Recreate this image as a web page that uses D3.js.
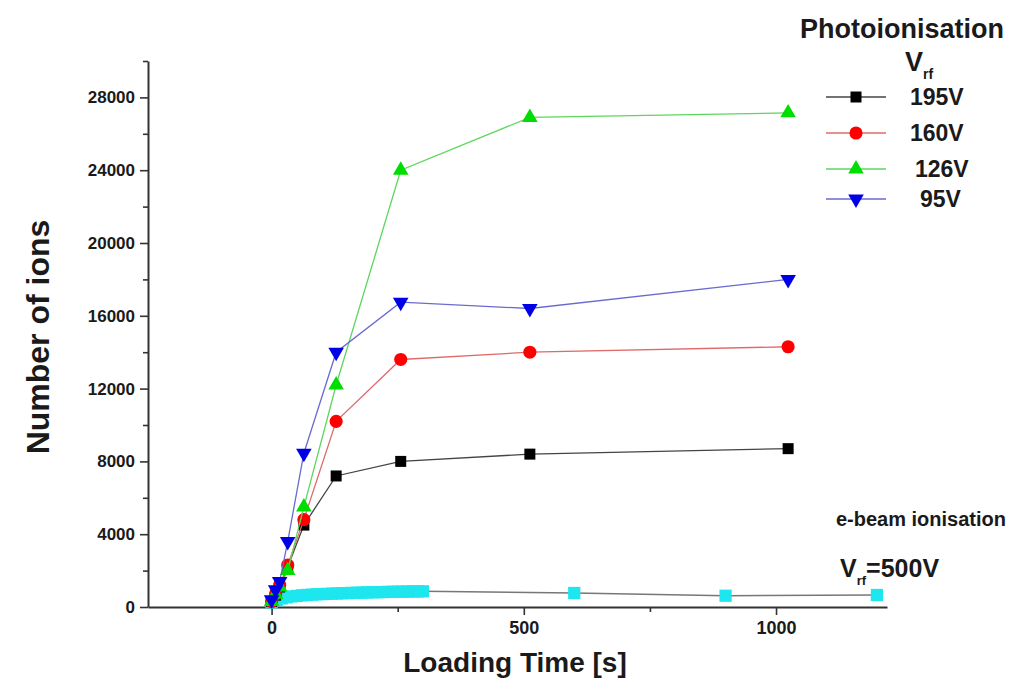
<!DOCTYPE html>
<meta charset="UTF-8">
<head>
    <script src="https://d3js.org/d3.v7.min.js"></script>
    <style>
        body { margin: 0; background: #fff; }
        svg text { font-family: "Liberation Sans", Arial, sans-serif; font-weight: bold; fill: #1a1a1a; }
        .axis path, .axis line { stroke: #333; }
        .axis path { stroke-width: 2px; }
        .axis line { stroke-width: 1.6px; }
        .axis text { font-size: 17px; }
    </style>
</head>
<body>
<script>
    // Photoionisation runs (loading time in s)
    var timesPhoto = [0, 8, 16, 32, 64, 128, 256, 512, 1024];
    var ions195 = [300, 650, 1100, 2200, 4500, 7200, 8000, 8400, 8700];
    var ions160 = [300, 700, 1200, 2300, 4800, 10200, 13600, 14000, 14300];
    var ions126 = [300, 700, 1100, 2000, 5500, 12200, 24000, 26900, 27150];
    var ions95 = [400, 950, 1400, 3600, 8450, 14000, 16750, 16400, 18000];

    // e-beam ionisation, Vrf = 500V
    var timesEbeam = [0, 10, 20, 30, 40, 50, 60, 70, 80, 90, 100, 110, 120, 130, 140, 150,
        160, 170, 180, 190, 200, 210, 220, 230, 240, 250, 260, 270, 280, 290, 300, 600, 900, 1200];
    var ionsEbeam = [250, 380, 470, 530, 580, 610, 640, 660, 680, 700, 710, 720, 735, 745, 755, 765,
        775, 785, 790, 800, 810, 815, 820, 830, 835, 840, 845, 850, 855, 860, 860, 770, 620, 660];

    var seriesNames = ["195V", "160V", "126V", "95V"];
    var xTicks = [0, 500, 1000];
    var xMinorTicks = [250, 750];
    var yTicks = [0, 4000, 8000, 12000, 16000, 20000, 24000, 28000];
    var yMinorTicks = [2000, 6000, 10000, 14000, 18000, 22000, 26000, 30000];

    var width = 1020, height = 683;

    var svg = d3.select("body").append("svg")
        .attr("width", width)
        .attr("height", height);

    var x = d3.scaleLinear().domain([-245, 1220]).range([148, 887]);
    var y = d3.scaleLinear().domain([0, 30000]).range([607, 61]);

    // series styles
    var series = [
        { name: seriesNames[0], values: ions195, line: "#444", fill: "#000", shape: d3.symbolSquare, size: 121, rot: 0 },
        { name: seriesNames[1], values: ions160, line: "#e06a6a", fill: "#f00", shape: d3.symbolCircle, size: 135, rot: 0 },
        { name: seriesNames[2], values: ions126, line: "#5ed65e", fill: "#0d0", shape: d3.symbolTriangle, size: 105, rot: 0 },
        { name: seriesNames[3], values: ions95, line: "#6a6ad0", fill: "#0000e6", shape: d3.symbolTriangle, size: 105, rot: 180 }
    ];

    var line = d3.line()
        .x(function (d) { return x(d[0]); })
        .y(function (d) { return y(d[1]); });

    // axes
    svg.append("g")
        .attr("class", "axis")
        .attr("transform", "translate(0," + y(0) + ")")
        .call(d3.axisBottom(x).tickValues(xMinorTicks).tickSize(5).tickFormat(""))
        .call(function (g) { g.select(".domain").remove(); });
    svg.append("g")
        .attr("class", "axis")
        .attr("transform", "translate(0," + y(0) + ")")
        .call(d3.axisBottom(x).tickValues(xTicks).tickSize(8).tickSizeOuter(0).tickPadding(6).tickFormat(d3.format("d")))
        .selectAll("text").style("font-size", "18px");

    svg.append("g")
        .attr("class", "axis")
        .attr("transform", "translate(" + x(-245) + ",0)")
        .call(d3.axisLeft(y).tickValues(yMinorTicks).tickSize(5).tickFormat(""))
        .call(function (g) { g.select(".domain").remove(); });
    svg.append("g")
        .attr("class", "axis")
        .attr("transform", "translate(" + x(-245) + ",0)")
        .call(d3.axisLeft(y).tickValues(yTicks).tickSize(8).tickSizeOuter(0).tickPadding(5).tickFormat(d3.format("d")));

    // e-beam data (drawn under the photoionisation data)
    var ebeam = timesEbeam.map(function (t, i) { return [t, ionsEbeam[i]]; });
    svg.append("path")
        .datum(ebeam)
        .attr("d", line)
        .attr("fill", "none")
        .attr("stroke", "#777")
        .attr("stroke-width", 1.5);
    svg.append("g").selectAll("path")
        .data(ebeam)
        .enter().append("path")
        .attr("d", d3.symbol().type(d3.symbolSquare).size(150))
        .attr("transform", function (d) { return "translate(" + x(d[0]) + "," + y(d[1]) + ")"; })
        .attr("fill", "#1ee6ee");

    // photoionisation data
    series.forEach(function (s) {
        var pts = timesPhoto.map(function (t, i) { return [t, s.values[i]]; });
        svg.append("path")
            .datum(pts)
            .attr("d", line)
            .attr("fill", "none")
            .attr("stroke", s.line)
            .attr("stroke-width", 1.3);
        svg.append("g").selectAll("path")
            .data(pts)
            .enter().append("path")
            .attr("d", d3.symbol().type(s.shape).size(s.size))
            .attr("transform", function (d) {
                return "translate(" + x(d[0]) + "," + y(d[1]) + ") rotate(" + s.rot + ")";
            })
            .attr("fill", s.fill);
    });

    // axis titles
    svg.append("text")
        .attr("x", 515).attr("y", 672)
        .attr("text-anchor", "middle")
        .style("font-size", "28px")
        .text("Loading Time [s]");
    svg.append("text")
        .attr("transform", "translate(49,337) rotate(-90)")
        .attr("text-anchor", "middle")
        .style("font-size", "32px")
        .text("Number of ions");

    // legend
    svg.append("text")
        .attr("x", 902).attr("y", 38)
        .attr("text-anchor", "middle")
        .style("font-size", "27px")
        .text("Photoionisation");
    var vrf = svg.append("text").attr("x", 905).attr("y", 71).style("font-size", "27px");
    vrf.append("tspan").text("V");
    vrf.append("tspan").attr("dy", 8).style("font-size", "14px").text("rf");

    var legendY = [97, 133, 169, 199];
    var legendTextX = [910, 910, 915, 920];
    series.forEach(function (s, i) {
        var g = svg.append("g").attr("transform", "translate(0," + legendY[i] + ")");
        g.append("line")
            .attr("x1", 826).attr("x2", 886)
            .attr("stroke", s.line).attr("stroke-width", 1.3);
        g.append("path")
            .attr("d", d3.symbol().type(s.shape).size(s.size))
            .attr("transform", "translate(856,0) rotate(" + s.rot + ")")
            .attr("fill", s.fill);
        g.append("text")
            .attr("x", legendTextX[i]).attr("y", 8)
            .style("font-size", "23px")
            .text(s.name);
    });

    svg.append("text")
        .attr("x", 1006).attr("y", 526)
        .attr("text-anchor", "end")
        .style("font-size", "20px")
        .text("e-beam ionisation");
    var vrf2 = svg.append("text").attr("x", 840).attr("y", 577).style("font-size", "25px");
    vrf2.append("tspan").text("V");
    vrf2.append("tspan").attr("dy", 8).style("font-size", "13px").text("rf");
    vrf2.append("tspan").attr("dy", -8).text("=500V");
</script>
</body>
